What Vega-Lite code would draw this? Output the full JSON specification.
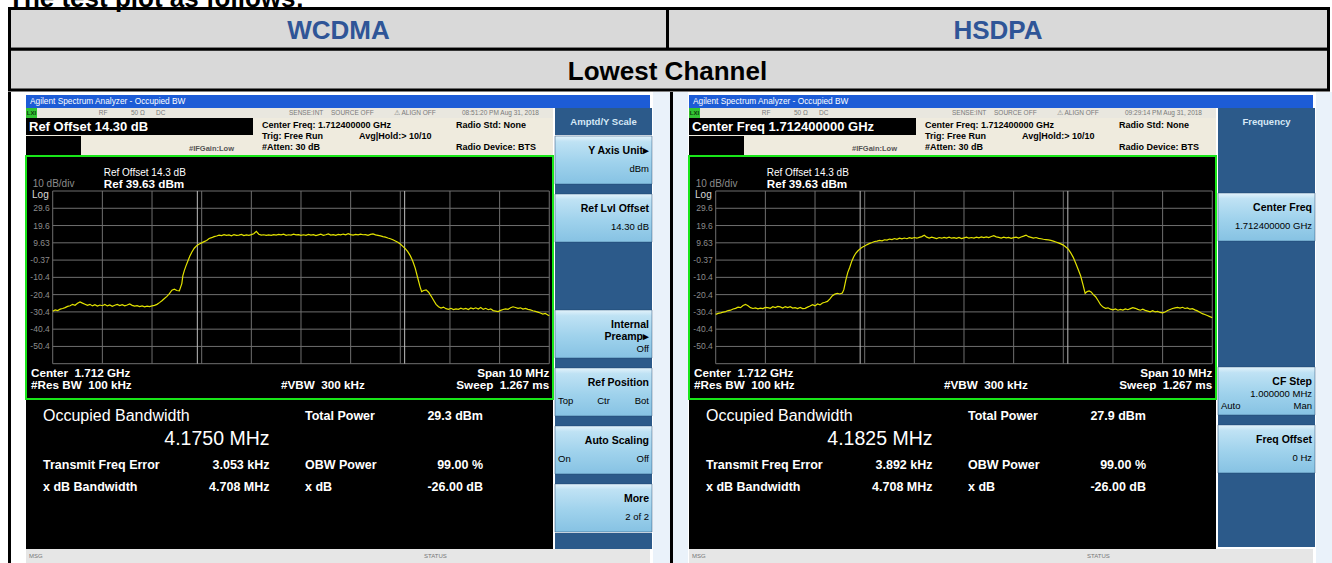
{
"$schema": "https://vega.github.io/schema/vega-lite/v6.json",
"padding": {"left": 8, "top": -14, "right": 0, "bottom": 0},
"background": "white",
"config": {"view": {"stroke": null}, "font": "Liberation Sans", "concat": {"spacing": 0}},
"spacing": 0,
"datasets": {
"cells": [
{"row": 1, "c0": 0, "c1": 1, "cm": 0.5, "r0": 0, "r1": 1, "rm": 0.5, "label": "WCDMA"},
{"row": 1, "c0": 1, "c1": 2, "cm": 1.5, "r0": 0, "r1": 1, "rm": 0.5, "label": "HSDPA"},
{"row": 2, "c0": 0, "c1": 2, "cm": 1, "r0": 1, "r1": 2, "rm": 1.5, "label": "Lowest Channel"}
],
"levels": [
{"lvl": 39.63, "label": "Log"}, {"lvl": 29.63, "label": "29.6"}, {"lvl": 19.63, "label": "19.6"}, {"lvl": 9.63, "label": "9.63"}, {"lvl": -0.37, "label": "-0.37"}, {"lvl": -10.37, "label": "-10.4"}, {"lvl": -20.37, "label": "-20.4"}, {"lvl": -30.37, "label": "-30.4"}, {"lvl": -40.37, "label": "-40.4"}, {"lvl": -50.37, "label": "-50.4"}, {"lvl": -60.37, "label": ""}
],
"freqs": [{"f": 1707}, {"f": 1708}, {"f": 1709}, {"f": 1710}, {"f": 1711}, {"f": 1712}, {"f": 1713}, {"f": 1714}, {"f": 1715}, {"f": 1716}, {"f": 1717}],
"obw": [
{"panel": "WCDMA", "f": 1709.9125}, {"panel": "WCDMA", "f": 1714.0875},
{"panel": "HSDPA", "f": 1709.909}, {"panel": "HSDPA", "f": 1714.091}
],
"traceW": [
{"f":1707,"v":-30},{"f":1707.05,"v":-29.2},{"f":1707.1,"v":-29.6},{"f":1707.15,"v":-28.8},{"f":1707.2,"v":-28.4},{"f":1707.25,"v":-27.9},{"f":1707.3,"v":-27.2},{"f":1707.35,"v":-26.8},{"f":1707.4,"v":-26},{"f":1707.45,"v":-26.5},{"f":1707.5,"v":-25.4},{"f":1707.55,"v":-24.6},{"f":1707.6,"v":-25.3},{"f":1707.65,"v":-25.9},{"f":1707.7,"v":-26.6},{"f":1707.75,"v":-26},{"f":1707.8,"v":-26.9},{"f":1707.85,"v":-26.2},{"f":1707.9,"v":-27},{"f":1707.95,"v":-26.4},
{"f":1708,"v":-26.8},{"f":1708.05,"v":-26.1},{"f":1708.1,"v":-26.9},{"f":1708.15,"v":-26.3},{"f":1708.2,"v":-27.1},{"f":1708.25,"v":-26.5},{"f":1708.3,"v":-26},{"f":1708.35,"v":-26.7},{"f":1708.4,"v":-26.2},{"f":1708.45,"v":-26.9},{"f":1708.5,"v":-26.4},{"f":1708.55,"v":-25.8},{"f":1708.6,"v":-26.6},{"f":1708.65,"v":-27},{"f":1708.7,"v":-26.8},{"f":1708.75,"v":-27.3},{"f":1708.8,"v":-26.9},{"f":1708.85,"v":-27.4},{"f":1708.9,"v":-27},{"f":1708.95,"v":-27.3},
{"f":1709,"v":-26.9},{"f":1709.05,"v":-26.6},{"f":1709.1,"v":-26},{"f":1709.15,"v":-25},{"f":1709.2,"v":-23.9},{"f":1709.25,"v":-22.6},{"f":1709.3,"v":-21.4},{"f":1709.35,"v":-19.8},{"f":1709.4,"v":-17.8},{"f":1709.45,"v":-17.2},{"f":1709.5,"v":-18},{"f":1709.55,"v":-18.2},{"f":1709.6,"v":-14},{"f":1709.62,"v":-9.5},{"f":1709.65,"v":-6.5},{"f":1709.68,"v":-4},{"f":1709.72,"v":-1},{"f":1709.76,"v":1.8},{"f":1709.8,"v":4.2},{"f":1709.85,"v":6.5},{"f":1709.9,"v":8},{"f":1709.95,"v":8.9},
{"f":1710,"v":9.6},{"f":1710.05,"v":10.3},{"f":1710.1,"v":11},{"f":1710.15,"v":12.1},{"f":1710.2,"v":12.6},{"f":1710.25,"v":13.2},{"f":1710.3,"v":13.6},{"f":1710.35,"v":14.1},{"f":1710.4,"v":13.8},{"f":1710.45,"v":14.3},{"f":1710.5,"v":13.9},{"f":1710.55,"v":14.2},{"f":1710.6,"v":13.7},{"f":1710.65,"v":14.4},{"f":1710.7,"v":13.9},{"f":1710.75,"v":14.1},{"f":1710.8,"v":14.5},{"f":1710.85,"v":13.8},{"f":1710.9,"v":14.2},{"f":1710.95,"v":14},
{"f":1711,"v":14.4},{"f":1711.05,"v":14.9},{"f":1711.1,"v":16.3},{"f":1711.15,"v":14.6},{"f":1711.2,"v":14.1},{"f":1711.25,"v":14.3},{"f":1711.3,"v":13.9},{"f":1711.35,"v":14.2},{"f":1711.4,"v":14},{"f":1711.45,"v":14.4},{"f":1711.5,"v":14.1},{"f":1711.55,"v":14.5},{"f":1711.6,"v":14.2},{"f":1711.65,"v":14.6},{"f":1711.7,"v":14},{"f":1711.75,"v":14.3},{"f":1711.8,"v":14.1},{"f":1711.85,"v":14.6},{"f":1711.9,"v":14.2},{"f":1711.95,"v":14.4},
{"f":1712,"v":13.9},{"f":1712.05,"v":14.3},{"f":1712.1,"v":14},{"f":1712.15,"v":14.5},{"f":1712.2,"v":14.1},{"f":1712.25,"v":14.4},{"f":1712.3,"v":13.8},{"f":1712.35,"v":14.2},{"f":1712.4,"v":14.6},{"f":1712.45,"v":14},{"f":1712.5,"v":14.3},{"f":1712.55,"v":14.8},{"f":1712.6,"v":14.1},{"f":1712.65,"v":14.4},{"f":1712.7,"v":14},{"f":1712.75,"v":14.5},{"f":1712.8,"v":14.2},{"f":1712.85,"v":14.7},{"f":1712.9,"v":14.3},{"f":1712.95,"v":14.9},
{"f":1713,"v":14.4},{"f":1713.05,"v":14.1},{"f":1713.1,"v":14.5},{"f":1713.15,"v":14.2},{"f":1713.2,"v":14.6},{"f":1713.25,"v":14.3},{"f":1713.3,"v":14.4},{"f":1713.35,"v":14},{"f":1713.4,"v":14.5},{"f":1713.45,"v":14.8},{"f":1713.5,"v":14.2},{"f":1713.55,"v":13.9},{"f":1713.6,"v":13.6},{"f":1713.65,"v":13.2},{"f":1713.7,"v":12.9},{"f":1713.75,"v":12.4},{"f":1713.8,"v":12},{"f":1713.85,"v":11.4},{"f":1713.9,"v":10.7},{"f":1713.95,"v":9.9},
{"f":1714,"v":8.9},{"f":1714.05,"v":7.6},{"f":1714.1,"v":6.3},{"f":1714.15,"v":4.5},{"f":1714.2,"v":2.2},{"f":1714.25,"v":-0.9},{"f":1714.3,"v":-5},{"f":1714.35,"v":-10.6},{"f":1714.4,"v":-16},{"f":1714.43,"v":-18.6},{"f":1714.47,"v":-18},{"f":1714.52,"v":-17.6},{"f":1714.57,"v":-19},{"f":1714.62,"v":-21.2},{"f":1714.67,"v":-23.6},{"f":1714.72,"v":-26},{"f":1714.77,"v":-27.4},{"f":1714.82,"v":-28.2},{"f":1714.87,"v":-27.6},{"f":1714.92,"v":-28.5},{"f":1714.97,"v":-28.9},
{"f":1715.02,"v":-28.3},{"f":1715.07,"v":-29},{"f":1715.12,"v":-28.6},{"f":1715.17,"v":-28.9},{"f":1715.22,"v":-28.2},{"f":1715.27,"v":-28.8},{"f":1715.32,"v":-28.4},{"f":1715.37,"v":-29},{"f":1715.42,"v":-28.1},{"f":1715.47,"v":-28.6},{"f":1715.52,"v":-28},{"f":1715.57,"v":-28.7},{"f":1715.62,"v":-27.8},{"f":1715.67,"v":-28.9},{"f":1715.72,"v":-28.3},{"f":1715.77,"v":-29.1},{"f":1715.82,"v":-28.6},{"f":1715.87,"v":-29.6},{"f":1715.92,"v":-29.9},{"f":1715.97,"v":-30.2},
{"f":1716.02,"v":-29.5},{"f":1716.07,"v":-29},{"f":1716.12,"v":-28.6},{"f":1716.17,"v":-28.9},{"f":1716.22,"v":-28},{"f":1716.27,"v":-27.4},{"f":1716.32,"v":-27.8},{"f":1716.37,"v":-28.3},{"f":1716.42,"v":-28},{"f":1716.47,"v":-28.7},{"f":1716.52,"v":-28.4},{"f":1716.57,"v":-28.9},{"f":1716.62,"v":-29.2},{"f":1716.67,"v":-29.7},{"f":1716.72,"v":-30.1},{"f":1716.77,"v":-30.5},{"f":1716.82,"v":-31},{"f":1716.87,"v":-31.6},{"f":1716.92,"v":-31.3},{"f":1716.97,"v":-32.2},{"f":1717,"v":-32.5}
],
"traceH": [
{"f":1707,"v":-31.8},{"f":1707.05,"v":-31.2},{"f":1707.1,"v":-30.9},{"f":1707.15,"v":-30.5},{"f":1707.2,"v":-30.2},{"f":1707.25,"v":-29.6},{"f":1707.3,"v":-29.4},{"f":1707.35,"v":-28.7},{"f":1707.4,"v":-28.3},{"f":1707.45,"v":-27.6},{"f":1707.5,"v":-27.9},{"f":1707.55,"v":-26.7},{"f":1707.6,"v":-26},{"f":1707.65,"v":-26.8},{"f":1707.7,"v":-27.9},{"f":1707.75,"v":-28.4},{"f":1707.8,"v":-28.1},{"f":1707.85,"v":-28.6},{"f":1707.9,"v":-28.2},{"f":1707.95,"v":-28.5},
{"f":1708,"v":-27.8},{"f":1708.05,"v":-27.9},{"f":1708.1,"v":-28.3},{"f":1708.15,"v":-27.4},{"f":1708.2,"v":-27.9},{"f":1708.25,"v":-27.2},{"f":1708.3,"v":-27.5},{"f":1708.35,"v":-28.1},{"f":1708.4,"v":-27.3},{"f":1708.45,"v":-27.9},{"f":1708.5,"v":-27.4},{"f":1708.55,"v":-28.2},{"f":1708.6,"v":-27.9},{"f":1708.65,"v":-28.4},{"f":1708.7,"v":-27.8},{"f":1708.75,"v":-28.5},{"f":1708.8,"v":-28.3},{"f":1708.85,"v":-27.6},{"f":1708.9,"v":-27},{"f":1708.95,"v":-26.2},
{"f":1709,"v":-26.9},{"f":1709.05,"v":-25.8},{"f":1709.1,"v":-26.3},{"f":1709.15,"v":-25.2},{"f":1709.2,"v":-24.8},{"f":1709.25,"v":-24.3},{"f":1709.3,"v":-22.8},{"f":1709.35,"v":-21},{"f":1709.4,"v":-20.1},{"f":1709.45,"v":-19.6},{"f":1709.5,"v":-20},{"f":1709.55,"v":-19.4},{"f":1709.58,"v":-17.5},{"f":1709.62,"v":-12},{"f":1709.66,"v":-7.5},{"f":1709.7,"v":-4.5},{"f":1709.74,"v":-1},{"f":1709.78,"v":1.6},{"f":1709.82,"v":3.6},{"f":1709.86,"v":4.9},{"f":1709.9,"v":6},{"f":1709.95,"v":7.1},
{"f":1710,"v":7.8},{"f":1710.05,"v":8.6},{"f":1710.1,"v":9.3},{"f":1710.15,"v":9.8},{"f":1710.2,"v":10.4},{"f":1710.25,"v":10.6},{"f":1710.3,"v":11},{"f":1710.35,"v":10.8},{"f":1710.4,"v":11.4},{"f":1710.45,"v":11.2},{"f":1710.5,"v":11.8},{"f":1710.55,"v":11.5},{"f":1710.6,"v":12.1},{"f":1710.65,"v":11.6},{"f":1710.7,"v":12.3},{"f":1710.75,"v":11.9},{"f":1710.8,"v":12.4},{"f":1710.85,"v":12},{"f":1710.9,"v":12.6},{"f":1710.95,"v":12.2},
{"f":1711,"v":12.7},{"f":1711.05,"v":12.3},{"f":1711.1,"v":12.8},{"f":1711.15,"v":13.2},{"f":1711.2,"v":14},{"f":1711.25,"v":12.9},{"f":1711.3,"v":12.4},{"f":1711.35,"v":12.9},{"f":1711.4,"v":12.5},{"f":1711.45,"v":12.1},{"f":1711.5,"v":12.7},{"f":1711.55,"v":12.3},{"f":1711.6,"v":12.8},{"f":1711.65,"v":12.4},{"f":1711.7,"v":12.9},{"f":1711.75,"v":12.3},{"f":1711.8,"v":12.6},{"f":1711.85,"v":12.2},{"f":1711.9,"v":12.8},{"f":1711.95,"v":12.1},
{"f":1712,"v":12.5},{"f":1712.05,"v":12.9},{"f":1712.1,"v":12.3},{"f":1712.15,"v":12.7},{"f":1712.2,"v":12.4},{"f":1712.25,"v":12.9},{"f":1712.3,"v":12.5},{"f":1712.35,"v":13},{"f":1712.4,"v":12.6},{"f":1712.45,"v":13.1},{"f":1712.5,"v":12.7},{"f":1712.55,"v":13.3},{"f":1712.6,"v":13.8},{"f":1712.65,"v":13.1},{"f":1712.7,"v":12.8},{"f":1712.75,"v":12.4},{"f":1712.8,"v":12.9},{"f":1712.85,"v":12.5},{"f":1712.9,"v":12.8},{"f":1712.95,"v":12.2},
{"f":1713,"v":12.6},{"f":1713.05,"v":12.9},{"f":1713.1,"v":12.4},{"f":1713.15,"v":13},{"f":1713.2,"v":13.5},{"f":1713.25,"v":14.1},{"f":1713.3,"v":13.2},{"f":1713.35,"v":12.8},{"f":1713.4,"v":12.4},{"f":1713.45,"v":12.7},{"f":1713.5,"v":12.2},{"f":1713.55,"v":12},{"f":1713.6,"v":11.7},{"f":1713.65,"v":11.5},{"f":1713.7,"v":11.3},{"f":1713.75,"v":11},{"f":1713.8,"v":10.6},{"f":1713.85,"v":10.1},{"f":1713.9,"v":9.6},{"f":1713.95,"v":9},
{"f":1714,"v":8.3},{"f":1714.05,"v":7.2},{"f":1714.1,"v":6},{"f":1714.15,"v":3.8},{"f":1714.2,"v":1.2},{"f":1714.25,"v":-2.2},{"f":1714.3,"v":-5.8},{"f":1714.35,"v":-9.6},{"f":1714.4,"v":-15},{"f":1714.44,"v":-19.6},{"f":1714.48,"v":-18.6},{"f":1714.52,"v":-18.2},{"f":1714.56,"v":-18.8},{"f":1714.6,"v":-20.2},{"f":1714.65,"v":-21.6},{"f":1714.7,"v":-23.8},{"f":1714.75,"v":-26.2},{"f":1714.8,"v":-27.6},{"f":1714.85,"v":-28.3},{"f":1714.9,"v":-28},{"f":1714.95,"v":-28.8},
{"f":1715,"v":-29.2},{"f":1715.05,"v":-28.7},{"f":1715.1,"v":-29.4},{"f":1715.15,"v":-28.9},{"f":1715.2,"v":-29.3},{"f":1715.25,"v":-28.6},{"f":1715.3,"v":-29.1},{"f":1715.35,"v":-28.5},{"f":1715.4,"v":-27.9},{"f":1715.45,"v":-28.3},{"f":1715.5,"v":-28.9},{"f":1715.55,"v":-29.4},{"f":1715.6,"v":-28.8},{"f":1715.65,"v":-29.5},{"f":1715.7,"v":-29.9},{"f":1715.75,"v":-30.3},{"f":1715.8,"v":-29.7},{"f":1715.85,"v":-30.4},{"f":1715.9,"v":-30.1},{"f":1715.95,"v":-30.7},
{"f":1716,"v":-30.9},{"f":1716.05,"v":-30.4},{"f":1716.1,"v":-29.6},{"f":1716.15,"v":-29},{"f":1716.2,"v":-28.4},{"f":1716.25,"v":-28},{"f":1716.3,"v":-27.8},{"f":1716.35,"v":-28.2},{"f":1716.4,"v":-27.7},{"f":1716.45,"v":-28.4},{"f":1716.5,"v":-28.1},{"f":1716.55,"v":-28.8},{"f":1716.6,"v":-28.5},{"f":1716.65,"v":-29.2},{"f":1716.7,"v":-29.8},{"f":1716.75,"v":-30.6},{"f":1716.8,"v":-31.4},{"f":1716.85,"v":-31.9},{"f":1716.9,"v":-32.5},{"f":1716.95,"v":-33.1},{"f":1717,"v":-33.7}
],
"plotNotes": [
{"role": "dim", "text": "10 dB/div", "f": 1706.597, "lvl": 43.5},
{"role": "sub", "text": "Ref Offset 14.3 dB", "f": 1708.027, "lvl": 50.2},
{"role": "bold", "text": "Ref 39.63 dBm", "f": 1708.027, "lvl": 43.9},
{"role": "bold", "text": "Center\u00a0 1.712 GHz", "f": 1706.563, "lvl": -65.6},
{"role": "bold", "text": "#Res BW\u00a0 100 kHz", "f": 1706.563, "lvl": -72.9},
{"role": "bold", "text": "#VBW\u00a0 300 kHz", "f": 1711.597, "lvl": -72.9},
{"role": "boldRight", "text": "Span 10 MHz", "f": 1716.999, "lvl": -65.6},
{"role": "boldRight", "text": "Sweep\u00a0 1.267 ms", "f": 1716.999, "lvl": -72.9}
],
"statusItems": [
{"panel": "both", "pos": 1, "text": "RF"}, {"panel": "both", "pos": 2, "text": "50 Ω"}, {"panel": "both", "pos": 3, "text": "DC"},
{"panel": "both", "pos": 4, "text": "SENSE:INT"}, {"panel": "both", "pos": 5, "text": "SOURCE OFF"}, {"panel": "both", "pos": 6, "text": "⚠ ALIGN OFF"},
{"panel": "WCDMA", "pos": 7, "text": "08:51:20 PM Aug 31, 2018"}, {"panel": "HSDPA", "pos": 7, "text": "09:29:14 PM Aug 31, 2018"}
],
"infoItems": [
{"col": 1, "row": 1, "text": "Center Freq: 1.712400000 GHz"},
{"col": 1, "row": 2, "text": "Trig: Free Run"},
{"col": 1, "row": 3, "text": "#Atten: 30 dB"},
{"col": 2, "row": 2, "text": "Avg|Hold:> 10/10"},
{"col": 3, "row": 1, "text": "Radio Std: None"},
{"col": 3, "row": 3, "text": "Radio Device: BTS"}
],
"results": [
{"panel":"WCDMA","row":1,"col":1,"kind":"head","text":"Occupied Bandwidth"},
{"panel":"WCDMA","row":1,"col":3,"kind":"label","text":"Total Power"},
{"panel":"WCDMA","row":1,"col":4,"kind":"value","text":"29.3 dBm"},
{"panel":"WCDMA","row":2,"col":2,"kind":"obw","text":"4.1750 MHz"},
{"panel":"WCDMA","row":3,"col":1,"kind":"label","text":"Transmit Freq Error"},
{"panel":"WCDMA","row":3,"col":2,"kind":"value","text":"3.053 kHz"},
{"panel":"WCDMA","row":3,"col":3,"kind":"label","text":"OBW Power"},
{"panel":"WCDMA","row":3,"col":4,"kind":"value","text":"99.00 %"},
{"panel":"WCDMA","row":4,"col":1,"kind":"label","text":"x dB Bandwidth"},
{"panel":"WCDMA","row":4,"col":2,"kind":"value","text":"4.708 MHz"},
{"panel":"WCDMA","row":4,"col":3,"kind":"label","text":"x dB"},
{"panel":"WCDMA","row":4,"col":4,"kind":"value","text":"-26.00 dB"},
{"panel":"HSDPA","row":1,"col":1,"kind":"head","text":"Occupied Bandwidth"},
{"panel":"HSDPA","row":1,"col":3,"kind":"label","text":"Total Power"},
{"panel":"HSDPA","row":1,"col":4,"kind":"value","text":"27.9 dBm"},
{"panel":"HSDPA","row":2,"col":2,"kind":"obw","text":"4.1825 MHz"},
{"panel":"HSDPA","row":3,"col":1,"kind":"label","text":"Transmit Freq Error"},
{"panel":"HSDPA","row":3,"col":2,"kind":"value","text":"3.892 kHz"},
{"panel":"HSDPA","row":3,"col":3,"kind":"label","text":"OBW Power"},
{"panel":"HSDPA","row":3,"col":4,"kind":"value","text":"99.00 %"},
{"panel":"HSDPA","row":4,"col":1,"kind":"label","text":"x dB Bandwidth"},
{"panel":"HSDPA","row":4,"col":2,"kind":"value","text":"4.708 MHz"},
{"panel":"HSDPA","row":4,"col":3,"kind":"label","text":"x dB"},
{"panel":"HSDPA","row":4,"col":4,"kind":"value","text":"-26.00 dB"}
],
"softButtons": [
{"panel": "WCDMA", "slot": 1}, {"panel": "WCDMA", "slot": 2}, {"panel": "WCDMA", "slot": 4}, {"panel": "WCDMA", "slot": 5}, {"panel": "WCDMA", "slot": 6}, {"panel": "WCDMA", "slot": 7},
{"panel": "HSDPA", "slot": 2}, {"panel": "HSDPA", "slot": 5}, {"panel": "HSDPA", "slot": 6}
],
"softText": [
{"panel": "WCDMA", "slot": 1, "line": "c", "side": "right", "kind": "label", "text": "Y Axis Unit▸"},
{"panel": "WCDMA", "slot": 1, "line": "f", "side": "right", "kind": "value", "text": "dBm"},
{"panel": "WCDMA", "slot": 2, "line": "c", "side": "right", "kind": "label", "text": "Ref Lvl Offset"},
{"panel": "WCDMA", "slot": 2, "line": "f", "side": "right", "kind": "value", "text": "14.30 dB"},
{"panel": "WCDMA", "slot": 4, "line": "c", "side": "right", "kind": "label", "text": "Internal"},
{"panel": "WCDMA", "slot": 4, "line": "e", "side": "right", "kind": "label", "text": "Preamp▸"},
{"panel": "WCDMA", "slot": 4, "line": "g", "side": "right", "kind": "value", "text": "Off"},
{"panel": "WCDMA", "slot": 5, "line": "c", "side": "right", "kind": "label", "text": "Ref Position"},
{"panel": "WCDMA", "slot": 5, "line": "f", "side": "left", "kind": "value", "text": "Top"},
{"panel": "WCDMA", "slot": 5, "line": "f", "side": "center", "kind": "value", "text": "Ctr"},
{"panel": "WCDMA", "slot": 5, "line": "f", "side": "right", "kind": "value", "text": "Bot"},
{"panel": "WCDMA", "slot": 6, "line": "c", "side": "right", "kind": "label", "text": "Auto Scaling"},
{"panel": "WCDMA", "slot": 6, "line": "f", "side": "left", "kind": "value", "text": "On"},
{"panel": "WCDMA", "slot": 6, "line": "f", "side": "right", "kind": "value", "text": "Off"},
{"panel": "WCDMA", "slot": 7, "line": "c", "side": "right", "kind": "label", "text": "More"},
{"panel": "WCDMA", "slot": 7, "line": "f", "side": "right", "kind": "value", "text": "2 of 2"},
{"panel": "HSDPA", "slot": 2, "line": "c", "side": "right", "kind": "label", "text": "Center Freq"},
{"panel": "HSDPA", "slot": 2, "line": "f", "side": "right", "kind": "value", "text": "1.712400000 GHz"},
{"panel": "HSDPA", "slot": 5, "line": "c", "side": "right", "kind": "label", "text": "CF Step"},
{"panel": "HSDPA", "slot": 5, "line": "e", "side": "right", "kind": "value", "text": "1.000000 MHz"},
{"panel": "HSDPA", "slot": 5, "line": "g", "side": "left", "kind": "value", "text": "Auto"},
{"panel": "HSDPA", "slot": 5, "line": "g", "side": "right", "kind": "value", "text": "Man"},
{"panel": "HSDPA", "slot": 6, "line": "c", "side": "right", "kind": "label", "text": "Freq Offset"},
{"panel": "HSDPA", "slot": 6, "line": "f", "side": "right", "kind": "value", "text": "0 Hz"}
],
"bottomItems": [{"pos": 1, "text": "MSG"}, {"pos": 2, "text": "STATUS"}]
},
"vconcat": [
{
"width": 1322, "height": 84,
"title": {"text": "The test plot as follows:", "anchor": "start", "fontSize": 26, "fontWeight": "bold", "color": "black", "offset": -31, "baseline": "bottom", "font": "Liberation Sans"},
"data": {"name": "cells"},
"layer": [
{"mark": {"type": "rect", "fill": "#d9d9d9", "stroke": "black", "strokeWidth": 3},
 "encoding": {
  "x": {"field": "c0", "type": "quantitative", "axis": null, "scale": {"domain": [0, 1, 2], "range": [1.5, 659.5, 1320.5]}},
  "x2": {"field": "c1"},
  "y": {"field": "r0", "type": "quantitative", "axis": null, "scale": {"domain": [0, 1, 2], "range": [1.5, 42.25, 83]}},
  "y2": {"field": "r1"}}},
{"transform": [{"filter": "datum.row == 1"}],
 "mark": {"type": "text", "fontSize": 26, "fontWeight": "bold", "color": "#2f5597", "dy": 2.5},
 "encoding": {"x": {"field": "cm", "type": "quantitative"}, "y": {"field": "rm", "type": "quantitative"}, "text": {"field": "label"}}},
{"transform": [{"filter": "datum.row == 2"}],
 "mark": {"type": "text", "fontSize": 26, "fontWeight": "bold", "color": "black", "dy": 2.5},
 "encoding": {"x": {"field": "cm", "type": "quantitative"}, "y": {"field": "rm", "type": "quantitative"}, "text": {"field": "label"}}}
]
},
{
"spacing": 0,
"hconcat": [
{"width": 3, "height": 471, "view": {"fill": "black"}, "data": {"values": []}, "mark": "point", "encoding": {}},
{"width": 14, "height": 471, "data": {"values": []}, "mark": "point", "encoding": {}},
{
"spacing": 0,
"vconcat": [
{"width": 624, "height": 3, "data": {"values": []}, "mark": "point", "encoding": {}},
{"width": 624, "height": 13, "view": {"fill": "#1d5cd6"}, "data": {"values": [{"t": "Agilent Spectrum Analyzer - Occupied BW"}]},
 "mark": {"type": "text", "align": "left", "dx": -308, "fontSize": 8.3, "color": "white"}, "encoding": {"text": {"field": "t"}}},
{"spacing": 0, "hconcat": [
 {"spacing": 0, "vconcat": [
  {"spacing": 0, "hconcat": [
   {"width": 11, "height": 10, "view": {"fill": "#33c433"}, "data": {"values": [{"t": "LXI"}]}, "mark": {"type": "text", "fontSize": 6, "fontWeight": "bold", "color": "#0b3b0b"}, "encoding": {"text": {"field": "t"}}},
   {"width": 516, "height": 10, "view": {"fill": "#e9e7df"}, "data": {"name": "statusItems"}, "transform": [{"filter": "datum.panel == 'both' || datum.panel == 'WCDMA'"}],
    "mark": {"type": "text", "align": "left", "fontSize": 6.5, "color": "#7a7a7a"},
    "encoding": {"x": {"field": "pos", "type": "quantitative", "axis": null, "scale": {"domain": [1, 2, 3, 4, 5, 6, 7], "range": [61.7, 94, 119, 252, 294, 357, 425]}}, "text": {"field": "text"}}}
  ]},
  {"spacing": 0, "hconcat": [
   {"spacing": 0, "vconcat": [
    {"width": 227, "height": 17, "view": {"fill": "black"}, "data": {"values": [{"t": "Ref Offset 14.30 dB"}]}, "mark": {"type": "text", "align": "left", "dx": -110.5, "fontSize": 13, "fontWeight": "bold", "color": "white"}, "encoding": {"text": {"field": "t"}}},
    {"width": 227, "height": 1, "view": {"fill": "#efebde"}, "data": {"values": []}, "mark": "point", "encoding": {}},
    {"spacing": 0, "hconcat": [
     {"width": 55, "height": 19, "view": {"fill": "black"}, "data": {"values": []}, "mark": "point", "encoding": {}},
     {"width": 172, "height": 19, "view": {"fill": "#efebde"}, "data": {"values": [{"t": "#IFGain:Low"}]}, "mark": {"type": "text", "align": "right", "dx": 67, "dy": 3.5, "fontSize": 7.5, "fontWeight": "bold", "color": "#555555"}, "encoding": {"text": {"field": "t"}}}
    ]}
   ]},
   {"width": 300, "height": 37, "view": {"fill": "#efebde"}, "data": {"name": "infoItems"},
    "mark": {"type": "text", "align": "left", "fontSize": 9, "fontWeight": "bold", "color": "black"},
    "encoding": {"x": {"field": "col", "type": "ordinal", "axis": null, "scale": {"type": "point", "range": [9, 203], "padding": 0}}, "y": {"field": "row", "type": "ordinal", "axis": null, "scale": {"type": "point", "range": [7, 29], "padding": 0}}, "text": {"field": "text"}}}
  ]},
  {"width": 527, "height": 243, "view": {"fill": "black", "stroke": "#19e619", "strokeWidth": 2},
   "layer": [
    {"data": {"name": "levels"}, "mark": {"type": "rule", "color": "#6f6f6f", "strokeWidth": 1},
     "encoding": {"x": {"datum": 1707, "type": "quantitative", "axis": null, "scale": {"domain": [1706.462, 1717.075], "nice": false, "zero": false}}, "x2": {"datum": 1717},
      "y": {"field": "lvl", "type": "quantitative", "axis": null, "scale": {"domain": [-80.81, 59.9], "nice": false, "zero": false}}}},
    {"data": {"name": "freqs"}, "mark": {"type": "rule", "color": "#6f6f6f", "strokeWidth": 1},
     "encoding": {"x": {"field": "f", "type": "quantitative"}, "y": {"datum": -60.37, "type": "quantitative"}, "y2": {"datum": 39.63}}},
    {"data": {"name": "obw"}, "transform": [{"filter": "datum.panel == 'WCDMA'"}], "mark": {"type": "rule", "color": "#bdbdbd", "strokeWidth": 1},
     "encoding": {"x": {"field": "f", "type": "quantitative"}, "y": {"datum": -60.37, "type": "quantitative"}, "y2": {"datum": 39.63}}},
    {"data": {"name": "traceW"}, "mark": {"type": "line", "color": "#e3e300", "strokeWidth": 1.2},
     "encoding": {"x": {"field": "f", "type": "quantitative"}, "y": {"field": "v", "type": "quantitative"}}},
    {"data": {"name": "levels"}, "transform": [{"filter": "datum.label != 'Log' && datum.label != ''"}], "mark": {"type": "text", "align": "right", "dx": -3, "fontSize": 8.5, "color": "#8c8c8c"},
     "encoding": {"x": {"datum": 1707, "type": "quantitative"}, "y": {"field": "lvl", "type": "quantitative"}, "text": {"field": "label"}}},
    {"data": {"name": "levels"}, "transform": [{"filter": "datum.label == 'Log'"}], "mark": {"type": "text", "align": "right", "dx": -4, "dy": 4, "fontSize": 10, "color": "#d8d8d8"},
     "encoding": {"x": {"datum": 1707, "type": "quantitative"}, "y": {"field": "lvl", "type": "quantitative"}, "text": {"field": "label"}}},
    {"data": {"name": "plotNotes"}, "encoding": {"x": {"field": "f", "type": "quantitative"}, "y": {"field": "lvl", "type": "quantitative"}, "text": {"field": "text"}},
     "layer": [
      {"transform": [{"filter": "datum.role == 'dim'"}], "mark": {"type": "text", "align": "left", "fontSize": 10, "color": "#8c8c8c"}},
      {"transform": [{"filter": "datum.role == 'sub'"}], "mark": {"type": "text", "align": "left", "fontSize": 10, "color": "white"}},
      {"transform": [{"filter": "datum.role == 'bold'"}], "mark": {"type": "text", "align": "left", "fontSize": 11.7, "fontWeight": "bold", "color": "white"}},
      {"transform": [{"filter": "datum.role == 'boldRight'"}], "mark": {"type": "text", "align": "right", "fontSize": 11.7, "fontWeight": "bold", "color": "white"}}
     ]}
   ]},
  {"width": 527, "height": 149, "view": {"fill": "black"}, "data": {"name": "results"}, "transform": [{"filter": "datum.panel == 'WCDMA'"}],
   "encoding": {"x": {"field": "col", "type": "quantitative", "axis": null, "scale": {"domain": [1, 2, 3, 4], "range": [17, 243.5, 279, 457]}}, "y": {"field": "row", "type": "quantitative", "axis": null, "scale": {"domain": [1, 2, 3, 4], "range": [15.5, 39, 65, 87]}}, "text": {"field": "text"}},
   "layer": [
    {"transform": [{"filter": "datum.kind == 'head'"}], "mark": {"type": "text", "align": "left", "fontSize": 16, "color": "white"}},
    {"transform": [{"filter": "datum.kind == 'obw'"}], "mark": {"type": "text", "align": "right", "fontSize": 19.5, "color": "white"}},
    {"transform": [{"filter": "datum.kind == 'label'"}], "mark": {"type": "text", "align": "left", "fontSize": 12.5, "fontWeight": "bold", "color": "white"}},
    {"transform": [{"filter": "datum.kind == 'value'"}], "mark": {"type": "text", "align": "right", "fontSize": 12.5, "fontWeight": "bold", "color": "white"}}
   ]}
 ]},
 {"spacing": 0, "vconcat": [
  {"width": 97, "height": 27, "view": {"fill": "#2c5a8a"}, "data": {"values": [{"t": "Amptd/Y Scale"}]}, "mark": {"type": "text", "fontSize": 9.5, "fontWeight": "bold", "color": "#d6e8f6"}, "encoding": {"text": {"field": "t"}}},
  {"width": 97, "height": 396, "view": {"fill": "#2c5a8a"},
   "layer": [
    {"data": {"name": "softButtons"}, "transform": [{"filter": "datum.panel == 'WCDMA'"}],
     "mark": {"type": "rect", "fill": {"gradient": "linear", "x1": 0, "y1": 0, "x2": 0, "y2": 1, "stops": [{"offset": 0, "color": "#e4f3fb"}, {"offset": 0.12, "color": "#bfe2f4"}, {"offset": 0.55, "color": "#9fd2ec"}, {"offset": 1, "color": "#86c2e3"}]}, "stroke": "#1e4670", "strokeWidth": 0.5},
     "encoding": {"y": {"field": "slot", "type": "ordinal", "axis": null, "bandPosition": 0, "scale": {"type": "band", "domain": [1, 2, 3, 4, 5, 6, 7], "paddingInner": 0.17, "paddingOuter": 0}}, "y2": {"field": "slot", "bandPosition": 1}}},
    {"data": {"name": "softText"}, "transform": [{"filter": "datum.panel == 'WCDMA'"}],
     "encoding": {"y": {"field": "slot", "type": "ordinal", "bandPosition": 0, "scale": {"type": "band"}}, "yOffset": {"field": "line", "type": "ordinal", "scale": {"type": "point", "domain": ["a", "b", "c", "d", "e", "f", "g", "h"]}}, "x": {"field": "side", "type": "nominal", "axis": null, "scale": {"type": "point", "domain": ["left", "center", "right"], "padding": 0}}, "text": {"field": "text"}},
     "layer": [
      {"transform": [{"filter": "datum.kind == 'label'"}], "mark": {"type": "text", "align": "right", "dx": -3, "fontSize": 10.5, "fontWeight": "bold", "color": "black"}},
      {"transform": [{"filter": "datum.kind == 'value' && datum.side == 'right'"}], "mark": {"type": "text", "align": "right", "dx": -3, "fontSize": 9.5, "color": "black"}},
      {"transform": [{"filter": "datum.kind == 'value' && datum.side == 'left'"}], "mark": {"type": "text", "align": "left", "dx": 3, "fontSize": 9.5, "color": "black"}},
      {"transform": [{"filter": "datum.kind == 'value' && datum.side == 'center'"}], "mark": {"type": "text", "align": "center", "fontSize": 9.5, "color": "black"}}
     ]}
   ]},
  {"width": 97, "height": 16, "view": {"fill": "#2c5a8a"}, "data": {"values": []}, "mark": "point", "encoding": {}}
 ]}
]},
{"width": 624, "height": 14, "view": {"fill": "#e6e6e6"}, "data": {"name": "bottomItems"},
 "mark": {"type": "text", "align": "left", "fontSize": 6, "color": "#777777"},
 "encoding": {"x": {"field": "pos", "type": "quantitative", "axis": null, "scale": {"domain": [1, 2], "range": [3, 398]}}, "text": {"field": "text"}}}
]
},
{"width": 17, "height": 471, "view": {"fill": "#eaf2fa"}, "data": {"values": []}, "mark": "point", "encoding": {}},
{"width": 3, "height": 471, "view": {"fill": "black"}, "data": {"values": []}, "mark": "point", "encoding": {}},
{"width": 15, "height": 471, "view": {"fill": "#eaf2fa"}, "data": {"values": []}, "mark": "point", "encoding": {}},
{
"spacing": 0,
"vconcat": [
{"width": 624, "height": 3, "data": {"values": []}, "mark": "point", "encoding": {}},
{"width": 624, "height": 13, "view": {"fill": "#1d5cd6"}, "data": {"values": [{"t": "Agilent Spectrum Analyzer - Occupied BW"}]},
 "mark": {"type": "text", "align": "left", "dx": -308, "fontSize": 8.3, "color": "white"}, "encoding": {"text": {"field": "t"}}},
{"spacing": 0, "hconcat": [
 {"spacing": 0, "vconcat": [
  {"spacing": 0, "hconcat": [
   {"width": 11, "height": 10, "view": {"fill": "#33c433"}, "data": {"values": [{"t": "LXI"}]}, "mark": {"type": "text", "fontSize": 6, "fontWeight": "bold", "color": "#0b3b0b"}, "encoding": {"text": {"field": "t"}}},
   {"width": 516, "height": 10, "view": {"fill": "#e9e7df"}, "data": {"name": "statusItems"}, "transform": [{"filter": "datum.panel == 'both' || datum.panel == 'HSDPA'"}],
    "mark": {"type": "text", "align": "left", "fontSize": 6.5, "color": "#7a7a7a"},
    "encoding": {"x": {"field": "pos", "type": "quantitative", "axis": null, "scale": {"domain": [1, 2, 3, 4, 5, 6, 7], "range": [61.7, 94, 119, 252, 294, 357, 425]}}, "text": {"field": "text"}}}
  ]},
  {"spacing": 0, "hconcat": [
   {"spacing": 0, "vconcat": [
    {"width": 227, "height": 17, "view": {"fill": "black"}, "data": {"values": [{"t": "Center Freq 1.712400000 GHz"}]}, "mark": {"type": "text", "align": "left", "dx": -110.5, "fontSize": 13, "fontWeight": "bold", "color": "white"}, "encoding": {"text": {"field": "t"}}},
    {"width": 227, "height": 1, "view": {"fill": "#efebde"}, "data": {"values": []}, "mark": "point", "encoding": {}},
    {"spacing": 0, "hconcat": [
     {"width": 55, "height": 19, "view": {"fill": "black"}, "data": {"values": []}, "mark": "point", "encoding": {}},
     {"width": 172, "height": 19, "view": {"fill": "#efebde"}, "data": {"values": [{"t": "#IFGain:Low"}]}, "mark": {"type": "text", "align": "right", "dx": 67, "dy": 3.5, "fontSize": 7.5, "fontWeight": "bold", "color": "#555555"}, "encoding": {"text": {"field": "t"}}}
    ]}
   ]},
   {"width": 300, "height": 37, "view": {"fill": "#efebde"}, "data": {"name": "infoItems"},
    "mark": {"type": "text", "align": "left", "fontSize": 9, "fontWeight": "bold", "color": "black"},
    "encoding": {"x": {"field": "col", "type": "ordinal", "axis": null, "scale": {"type": "point", "range": [9, 203], "padding": 0}}, "y": {"field": "row", "type": "ordinal", "axis": null, "scale": {"type": "point", "range": [7, 29], "padding": 0}}, "text": {"field": "text"}}}
  ]},
  {"width": 527, "height": 243, "view": {"fill": "black", "stroke": "#19e619", "strokeWidth": 2},
   "layer": [
    {"data": {"name": "levels"}, "mark": {"type": "rule", "color": "#6f6f6f", "strokeWidth": 1},
     "encoding": {"x": {"datum": 1707, "type": "quantitative", "axis": null, "scale": {"domain": [1706.462, 1717.075], "nice": false, "zero": false}}, "x2": {"datum": 1717},
      "y": {"field": "lvl", "type": "quantitative", "axis": null, "scale": {"domain": [-80.81, 59.9], "nice": false, "zero": false}}}},
    {"data": {"name": "freqs"}, "mark": {"type": "rule", "color": "#6f6f6f", "strokeWidth": 1},
     "encoding": {"x": {"field": "f", "type": "quantitative"}, "y": {"datum": -60.37, "type": "quantitative"}, "y2": {"datum": 39.63}}},
    {"data": {"name": "obw"}, "transform": [{"filter": "datum.panel == 'HSDPA'"}], "mark": {"type": "rule", "color": "#bdbdbd", "strokeWidth": 1},
     "encoding": {"x": {"field": "f", "type": "quantitative"}, "y": {"datum": -60.37, "type": "quantitative"}, "y2": {"datum": 39.63}}},
    {"data": {"name": "traceH"}, "mark": {"type": "line", "color": "#e3e300", "strokeWidth": 1.2},
     "encoding": {"x": {"field": "f", "type": "quantitative"}, "y": {"field": "v", "type": "quantitative"}}},
    {"data": {"name": "levels"}, "transform": [{"filter": "datum.label != 'Log' && datum.label != ''"}], "mark": {"type": "text", "align": "right", "dx": -3, "fontSize": 8.5, "color": "#8c8c8c"},
     "encoding": {"x": {"datum": 1707, "type": "quantitative"}, "y": {"field": "lvl", "type": "quantitative"}, "text": {"field": "label"}}},
    {"data": {"name": "levels"}, "transform": [{"filter": "datum.label == 'Log'"}], "mark": {"type": "text", "align": "right", "dx": -4, "dy": 4, "fontSize": 10, "color": "#d8d8d8"},
     "encoding": {"x": {"datum": 1707, "type": "quantitative"}, "y": {"field": "lvl", "type": "quantitative"}, "text": {"field": "label"}}},
    {"data": {"name": "plotNotes"}, "encoding": {"x": {"field": "f", "type": "quantitative"}, "y": {"field": "lvl", "type": "quantitative"}, "text": {"field": "text"}},
     "layer": [
      {"transform": [{"filter": "datum.role == 'dim'"}], "mark": {"type": "text", "align": "left", "fontSize": 10, "color": "#8c8c8c"}},
      {"transform": [{"filter": "datum.role == 'sub'"}], "mark": {"type": "text", "align": "left", "fontSize": 10, "color": "white"}},
      {"transform": [{"filter": "datum.role == 'bold'"}], "mark": {"type": "text", "align": "left", "fontSize": 11.7, "fontWeight": "bold", "color": "white"}},
      {"transform": [{"filter": "datum.role == 'boldRight'"}], "mark": {"type": "text", "align": "right", "fontSize": 11.7, "fontWeight": "bold", "color": "white"}}
     ]}
   ]},
  {"width": 527, "height": 149, "view": {"fill": "black"}, "data": {"name": "results"}, "transform": [{"filter": "datum.panel == 'HSDPA'"}],
   "encoding": {"x": {"field": "col", "type": "quantitative", "axis": null, "scale": {"domain": [1, 2, 3, 4], "range": [17, 243.5, 279, 457]}}, "y": {"field": "row", "type": "quantitative", "axis": null, "scale": {"domain": [1, 2, 3, 4], "range": [15.5, 39, 65, 87]}}, "text": {"field": "text"}},
   "layer": [
    {"transform": [{"filter": "datum.kind == 'head'"}], "mark": {"type": "text", "align": "left", "fontSize": 16, "color": "white"}},
    {"transform": [{"filter": "datum.kind == 'obw'"}], "mark": {"type": "text", "align": "right", "fontSize": 19.5, "color": "white"}},
    {"transform": [{"filter": "datum.kind == 'label'"}], "mark": {"type": "text", "align": "left", "fontSize": 12.5, "fontWeight": "bold", "color": "white"}},
    {"transform": [{"filter": "datum.kind == 'value'"}], "mark": {"type": "text", "align": "right", "fontSize": 12.5, "fontWeight": "bold", "color": "white"}}
   ]}
 ]},
 {"spacing": 0, "vconcat": [
  {"width": 97, "height": 27, "view": {"fill": "#2c5a8a"}, "data": {"values": [{"t": "Frequency"}]}, "mark": {"type": "text", "fontSize": 9.5, "fontWeight": "bold", "color": "#d6e8f6"}, "encoding": {"text": {"field": "t"}}},
  {"width": 97, "height": 396, "view": {"fill": "#2c5a8a"},
   "layer": [
    {"data": {"name": "softButtons"}, "transform": [{"filter": "datum.panel == 'HSDPA'"}],
     "mark": {"type": "rect", "fill": {"gradient": "linear", "x1": 0, "y1": 0, "x2": 0, "y2": 1, "stops": [{"offset": 0, "color": "#e4f3fb"}, {"offset": 0.12, "color": "#bfe2f4"}, {"offset": 0.55, "color": "#9fd2ec"}, {"offset": 1, "color": "#86c2e3"}]}, "stroke": "#1e4670", "strokeWidth": 0.5},
     "encoding": {"y": {"field": "slot", "type": "ordinal", "axis": null, "bandPosition": 0, "scale": {"type": "band", "domain": [1, 2, 3, 4, 5, 6, 7], "paddingInner": 0.17, "paddingOuter": 0}}, "y2": {"field": "slot", "bandPosition": 1}}},
    {"data": {"name": "softText"}, "transform": [{"filter": "datum.panel == 'HSDPA'"}],
     "encoding": {"y": {"field": "slot", "type": "ordinal", "bandPosition": 0, "scale": {"type": "band"}}, "yOffset": {"field": "line", "type": "ordinal", "scale": {"type": "point", "domain": ["a", "b", "c", "d", "e", "f", "g", "h"]}}, "x": {"field": "side", "type": "nominal", "axis": null, "scale": {"type": "point", "domain": ["left", "center", "right"], "padding": 0}}, "text": {"field": "text"}},
     "layer": [
      {"transform": [{"filter": "datum.kind == 'label'"}], "mark": {"type": "text", "align": "right", "dx": -3, "fontSize": 10.5, "fontWeight": "bold", "color": "black"}},
      {"transform": [{"filter": "datum.kind == 'value' && datum.side == 'right'"}], "mark": {"type": "text", "align": "right", "dx": -3, "fontSize": 9.5, "color": "black"}},
      {"transform": [{"filter": "datum.kind == 'value' && datum.side == 'left'"}], "mark": {"type": "text", "align": "left", "dx": 3, "fontSize": 9.5, "color": "black"}},
      {"transform": [{"filter": "datum.kind == 'value' && datum.side == 'center'"}], "mark": {"type": "text", "align": "center", "fontSize": 9.5, "color": "black"}}
     ]}
   ]},
  {"width": 97, "height": 16, "view": {"fill": "#2c5a8a"}, "data": {"values": []}, "mark": "point", "encoding": {}}
 ]}
]},
{"width": 624, "height": 14, "view": {"fill": "#e6e6e6"}, "data": {"name": "bottomItems"},
 "mark": {"type": "text", "align": "left", "fontSize": 6, "color": "#777777"},
 "encoding": {"x": {"field": "pos", "type": "quantitative", "axis": null, "scale": {"domain": [1, 2], "range": [3, 398]}}, "text": {"field": "text"}}}
]
},
{"width": 19, "height": 471, "view": {"fill": "#eaf2fa"}, "data": {"values": []}, "mark": "point", "encoding": {}},
{"width": 3, "height": 471, "view": {"fill": "black"}, "data": {"values": []}, "mark": "point", "encoding": {}}
]
}
]
}
